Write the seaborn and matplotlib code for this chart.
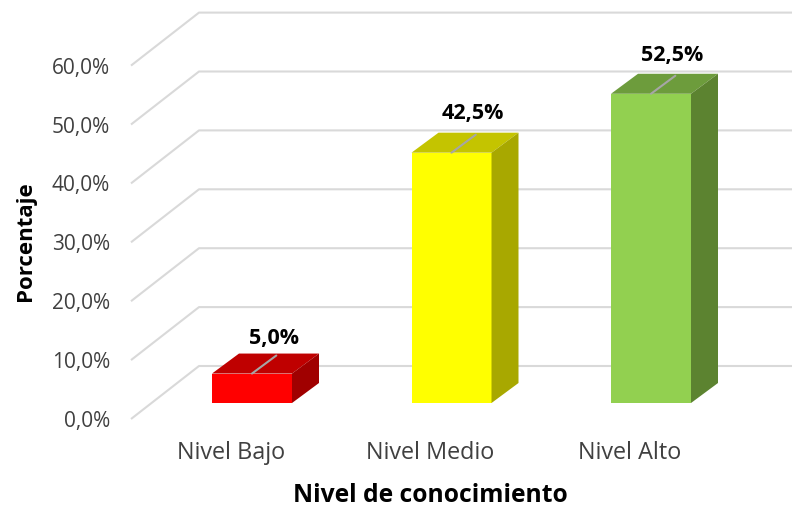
import matplotlib
matplotlib.use("Agg")
import matplotlib.pyplot as plt
from matplotlib.patches import Polygon
import pandas as pd
import seaborn as sns

categories = ["Nivel Bajo", "Nivel Medio", "Nivel Alto"]
percentages = [5.0, 42.5, 52.5]
y_ticks = [0, 10, 20, 30, 40, 50, 60]
front_colors = ["#FF0000", "#FFFF00", "#92D050"]
top_colors = ["#BF0000", "#C4C400", "#6D9C3C"]
side_colors = ["#A00000", "#A8A800", "#5C8330"]

W, H = 792, 511
L, B, T = 131, 419, 13
PX_X, PX_Y = 199.5, 5.89

sns.set_style("white")
plt.rcParams["font.family"] = ["Open Sans", "DejaVu Sans"]

fig = plt.figure(figsize=(W / 100, H / 100), dpi=100)
ax = fig.add_axes([L / W, 1 - B / H, (W - L) / W, (B - T) / H])
ax.patch.set_alpha(0)

# Oblique depth of the floor and of the columns, in axis units
floor_dx, floor_dy = 68 / PX_X, 53 / PX_Y
bar_dx, bar_dy = 27 / PX_X, 20 / PX_Y
lift = 16 / PX_Y
bar_width = 80 / PX_X
label_shift = 21 / PX_X
label_rise = [25.5, 28, 27.5]

df = pd.DataFrame({"nivel": categories, "pct": percentages})
sns.barplot(data=df, x="nivel", y="pct", hue="nivel", palette=front_colors,
            width=bar_width, gap=0, dodge=False, legend=False, ax=ax,
            linewidth=0, zorder=3, saturation=1)

x_left = (L - 252) / PX_X
x_right = (W - 252) / PX_X
ax.set_xlim(x_left, x_right)
ax.set_ylim(0, (B - T) / PX_Y)

# Gridlines: side wall running back from the front edge, then the back wall
for v in y_ticks:
    ax.plot([x_left, x_left + floor_dx, x_right], [v, v + floor_dy, v + floor_dy],
            color="#D9D9D9", lw=1.5, zorder=1, solid_capstyle="butt", clip_on=False)

for i, (v, patch) in enumerate(zip(percentages, ax.patches)):
    patch.set_y(lift)
    patch.set_height(v)
    x0, x1 = i - bar_width / 2, i + bar_width / 2
    y0, y1 = lift, lift + v
    ax.add_patch(Polygon([(x0, y1), (x1, y1), (x1 + bar_dx, y1 + bar_dy), (x0 + bar_dx, y1 + bar_dy)],
                         closed=True, fc=top_colors[i], ec="none", zorder=3))
    ax.add_patch(Polygon([(x1, y0), (x1 + bar_dx, y0 + bar_dy), (x1 + bar_dx, y1 + bar_dy), (x1, y1)],
                         closed=True, fc=side_colors[i], ec="none", zorder=3))
    # Leader line from the column to its value label
    ax.annotate("", xy=(i, y1), xytext=(17.5, 13), textcoords="offset points",
                arrowprops=dict(arrowstyle="-", color="#A6A6A6", lw=1.5,
                                shrinkA=0, shrinkB=0), zorder=4)
    ax.annotate(f"{v:.1f}%".replace(".", ","), xy=(i, y1), xytext=(15.5, label_rise[i]),
                textcoords="offset points", ha="center", va="center",
                fontsize=15.5, fontweight="bold", color="#000000", zorder=5)

# Category labels sit under the front edge of the floor, left of the columns
ax.set_xticks([i - label_shift for i in range(len(categories))])
ax.set_xticklabels(categories)
ax.set_yticks(y_ticks)
ax.set_yticklabels([f"{v:.1f}%".replace(".", ",") for v in y_ticks])
ax.tick_params(axis="y", length=0, pad=15, labelsize=15, labelcolor="#404040")
ax.tick_params(axis="x", length=0, pad=15.5, labelsize=16.8, labelcolor="#404040")
for s in ax.spines.values():
    s.set_visible(False)
ax.grid(False)
ax.set_xlabel("")
ax.set_ylabel("")

fig.text(26 / W, 1 - 241 / H, "Porcentaje", rotation=90, ha="center", va="center",
         fontsize=16, fontweight="bold", color="#000000")
fig.text(430 / W, 1 - 495 / H, "Nivel de conocimiento", ha="center", va="center",
         fontsize=17.7, fontweight="bold", color="#000000")

fig.savefig("out.png", dpi=100)
